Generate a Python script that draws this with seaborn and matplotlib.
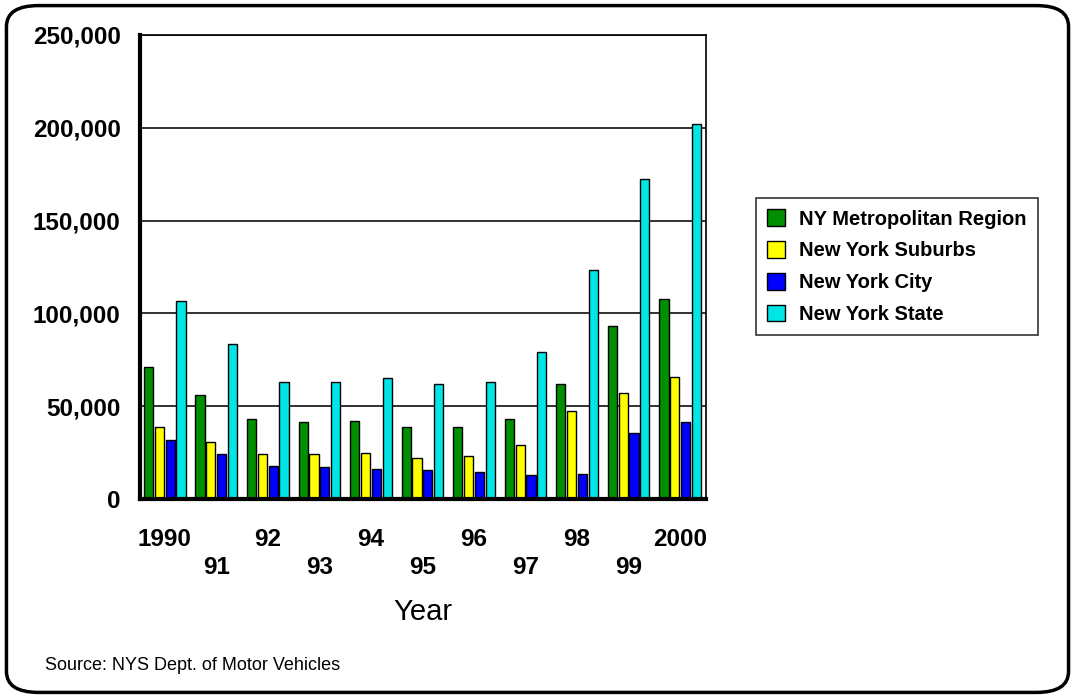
import pandas as pd
import matplotlib.pyplot as plt
import seaborn as sns
from matplotlib.patches import FancyBboxPatch, Patch

years = ["1990", "91", "92", "93", "94", "95", "96", "97", "98", "99", "2000"]
regions = ["NY Metropolitan Region", "New York Suburbs", "New York City", "New York State"]

metro = [71300, 56000, 43100, 41300, 42200, 39000, 38800, 43100, 62100, 93000, 107800]
suburbs = [39000, 30900, 24200, 24200, 25000, 22300, 23200, 29300, 47400, 56900, 65600]
city = [31800, 24200, 17900, 17200, 16300, 15600, 14700, 13100, 13600, 35400, 41300]
state = [106800, 83700, 62900, 62900, 65400, 62000, 62900, 79400, 123200, 172400, 201900]

colors = ["#008f00", "#ffff00", "#0000ff", "#00e5e5"]

rows = []
for reg, vals in zip(regions, [metro, suburbs, city, state]):
    for yr, v in zip(years, vals):
        rows.append({"Year": yr, "Region": reg, "Value": v})
df = pd.DataFrame(rows)

sns.set_style("white")
plt.rcParams["font.family"] = ["Liberation Sans", "DejaVu Sans"]
plt.rcParams["text.color"] = "black"
plt.rcParams["xtick.color"] = "black"
plt.rcParams["ytick.color"] = "black"

fig = plt.figure(figsize=(10.75, 6.98), dpi=100)
ax = fig.add_axes([0.1302, 0.2851, 0.5265, 0.6648])

sns.barplot(data=df, x="Year", y="Value", hue="Region", hue_order=regions,
            order=years, palette=colors, width=0.84, gap=0.15, saturation=1,
            errorbar=None, edgecolor="black", linewidth=1, ax=ax,
            legend=False, zorder=3)

ax.set_ylim(0, 250000)
ax.set_xlim(-0.48, 10.5)
ax.set_yticks(range(0, 250001, 50000))
ax.set_yticklabels([f"{v:,}" for v in range(0, 250001, 50000)],
                   fontsize=17.5, fontweight="bold")
ax.set_xticks(range(len(years)))
ax.set_xticklabels(years, fontsize=17.5, fontweight="bold")
ax.tick_params(axis="both", length=0, labelcolor="black")
ax.tick_params(axis="y", pad=14)
for i, t in enumerate(ax.xaxis.get_major_ticks()):
    t.set_pad(21 if i % 2 == 0 else 41)

ax.yaxis.grid(True, color="#222222", linewidth=1.3, zorder=0)
ax.set_axisbelow(True)
ax.set_xlabel("")
ax.set_ylabel("")
for side in ["top", "right"]:
    ax.spines[side].set_visible(True)
    ax.spines[side].set_linewidth(1.2)
    ax.spines[side].set_color("black")
for side in ["left", "bottom"]:
    ax.spines[side].set_linewidth(3)
    ax.spines[side].set_color("black")
    ax.spines[side].set_zorder(5)

handles = [Patch(facecolor=c, edgecolor="black", linewidth=1) for c in colors]
leg = fig.legend(handles, regions, loc="upper left",
                 bbox_to_anchor=(0.703, 0.716), frameon=True, fancybox=False,
                 prop={"weight": "bold", "size": 14.5}, handlelength=0.9,
                 handleheight=0.9, handletextpad=0.7, labelspacing=0.62,
                 borderpad=0.55, borderaxespad=0)
leg.get_frame().set_edgecolor("black")
leg.get_frame().set_linewidth(1.2)
for txt in leg.get_texts():
    txt.set_color("black")

fig.text(0.3935, 0.123, "Year", fontsize=21, ha="center", va="center")
fig.text(0.042, 0.047, "Source: NYS Dept. of Motor Vehicles", fontsize=13,
         ha="left", va="center")

border = FancyBboxPatch((0.006, 0.008), 0.988, 0.984,
                        boxstyle="round,pad=0,rounding_size=0.03",
                        transform=fig.transFigure, fill=False,
                        edgecolor="black", linewidth=2.5)
fig.patches.append(border)

fig.savefig("out.png", dpi=100)
